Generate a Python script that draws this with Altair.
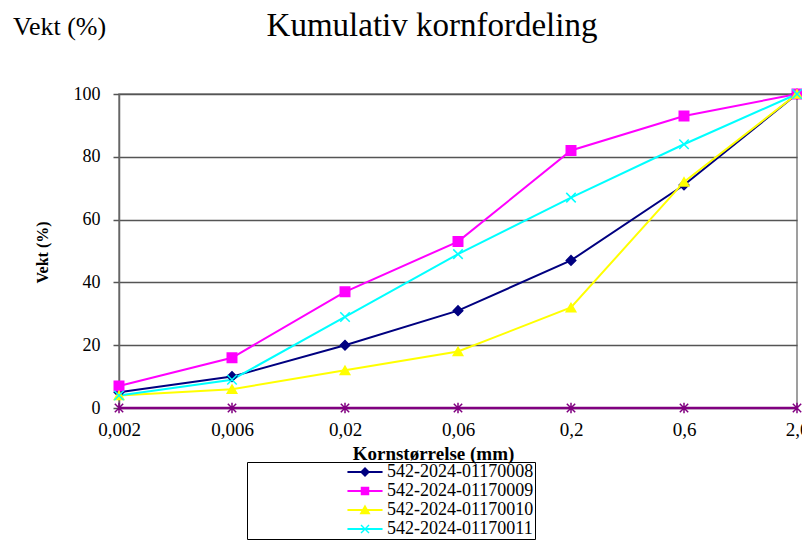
import altair as alt
import pandas as pd

# ---- data ----
sizes = ["0,002", "0,006", "0,02", "0,06", "0,2", "0,6", "2,0"]
series_names = ["542-2024-01170008", "542-2024-01170009",
                "542-2024-01170010", "542-2024-01170011"]
s08 = [5, 10, 20, 31, 47, 71, 100]
s09 = [7, 16, 37, 53, 82, 93, 100]
s10 = [4, 6, 12, 18, 32, 72, 100]
s11 = [4, 9, 29, 49, 67, 84, 100]
base_vals = [0, 0, 0, 0, 0, 0, 0]
y_ticks = [0, 20, 40, 60, 80, 100]

main_title = ["Kumulativ kornfordeling"]
corner_label = ["Vekt (%)"]

colors = ["#000080", "#FF00FF", "#FFFF00", "#00FFFF"]
base_color = "#800080"
plot_shapes = ["diamond", "square", "triangle-up", "M-1,-1L1,1M-1,1L1,-1"]
plot_sizes = [90, 90, 110, 90]
# filled legend markers (the X is drawn as a polygon so it needs no stroke)
legend_markers = [
    "M0,-1L1,0L0,1L-1,0Z",
    "M-0.85,-0.85L0.85,-0.85L0.85,0.85L-0.85,0.85Z",
    "M0,-1.1L1.1,0.85L-1.1,0.85Z",
    "M-0.9,-0.7L-0.7,-0.9L0,-0.2L0.7,-0.9L0.9,-0.7L0.2,0L0.9,0.7L0.7,0.9"
    "L0,0.2L-0.7,0.9L-0.9,0.7L-0.2,0Z",
]
legend_line = "M-3.7,0L3.7,0"
asterisk = "M0,-1L0,1M-0.8,-0.8L0.8,0.8M-0.8,0.8L0.8,-0.8"

rows = []
for name, vals in zip(series_names, [s08, s09, s10, s11]):
    for i, (s, v) in enumerate(zip(sizes, vals)):
        rows.append({"serie": name, "size": s, "value": v, "ord": i})
df = pd.DataFrame(rows)
base_df = pd.DataFrame({"size": sizes, "value": base_vals, "ord": list(range(len(sizes)))})

SERIF = "Liberation Serif"
W, H = 678, 314
LEG_X, LEG_Y, ROW, LFS = 128, 368, 19, 18

x_enc = alt.X(
    "size:N", sort=sizes,
    scale=alt.Scale(type="point", padding=0),
    axis=alt.Axis(
        title="Kornstørrelse (mm)", titleFont=SERIF, titleFontSize=19,
        titleFontWeight="bold", titleColor="black",
        titleX=314, titleY=45, titleBaseline="middle", titleAlign="center",
        labelFont=SERIF, labelFontSize=19, labelColor="black", labelAngle=0,
        labelPadding=12, ticks=False, domain=False, grid=False,
    ),
)
y_enc = alt.Y(
    "value:Q",
    scale=alt.Scale(domain=[0, 100], nice=False, zero=True),
    axis=alt.Axis(
        values=y_ticks, title="Vekt (%)", titleFont=SERIF, titleFontSize=16,
        titleFontWeight="bold", titleColor="black", titleAngle=-90,
        titleX=-77, titleY=158, titleAlign="center", titleBaseline="middle",
        labelFont=SERIF, labelFontSize=18, labelColor="black", labelPadding=13,
        tickSize=6, tickColor="#555555", tickWidth=1.5,
        domainColor="#666666", domainWidth=1.5,
        grid=True, gridColor="#555555", gridWidth=1.5,
    ),
)

col_scale = alt.Scale(domain=series_names, range=colors)

common_leg = dict(
    title=None, orient="none", legendX=LEG_X,
    labelFont=SERIF, labelFontSize=LFS, labelColor="black",
    symbolSize=100, symbolOffset=108, labelOffset=13,
    rowPadding=1, padding=1, cornerRadius=0,
)

# framed legend: labels + coloured line segments
box_legend = alt.Legend(
    legendY=LEG_Y, symbolType=legend_line, symbolStrokeWidth=2, symbolOpacity=1,
    strokeColor="black",
    labelExpr="datum.label + '" + "\u00a0" * 14 + "'",
    **common_leg,
)

lines = alt.Chart(df).mark_line(strokeWidth=2).encode(
    x=x_enc, y=y_enc,
    color=alt.Color("serie:N", scale=col_scale, legend=box_legend),
    order=alt.Order("ord:Q"),
)

points = alt.Chart(df).mark_point(filled=True, strokeWidth=1.5, opacity=1).encode(
    x=x_enc, y=y_enc,
    fill=alt.Fill("serie:N", scale=col_scale, legend=None),
    stroke=alt.Stroke("serie:N", scale=col_scale, legend=None),
    shape=alt.Shape("serie:N", scale=alt.Scale(domain=series_names, range=plot_shapes), legend=None),
    size=alt.Size("serie:N", scale=alt.Scale(domain=series_names, range=plot_sizes), legend=None),
)

# one marker per legend row, laid over the framed legend
symbol_layers = []
for i, (name, c, path) in enumerate(zip(series_names, colors, legend_markers)):
    lg = alt.Legend(
        legendY=LEG_Y + ROW * i, symbolOpacity=1, labelOpacity=0,
        symbolFillColor=c,
        **common_leg,
    )
    symbol_layers.append(
        alt.Chart(df[df["serie"] == name]).mark_point(
            filled=True, color=c, size=100, opacity=0
        ).encode(
            x=x_enc, y=y_enc,
            shape=alt.Shape("serie:N", scale=alt.Scale(domain=[name], range=[path]), legend=lg),
        )
    )

base_line = alt.Chart(base_df).mark_line(strokeWidth=2.5, color=base_color).encode(
    x=x_enc, y=y_enc, order=alt.Order("ord:Q"),
)
base_pts = alt.Chart(base_df).mark_point(
    shape=asterisk, size=110, strokeWidth=1.5, color=base_color, filled=False, opacity=1
).encode(x=x_enc, y=y_enc)

title_txt = alt.Chart(pd.DataFrame({"t": main_title})).mark_text(
    font=SERIF, fontSize=33, color="black", align="center", baseline="alphabetic"
).encode(text="t:N", x=alt.value(313), y=alt.value(-58))

corner_txt = alt.Chart(pd.DataFrame({"t": corner_label})).mark_text(
    font=SERIF, fontSize=26, color="black", align="left", baseline="alphabetic"
).encode(text="t:N", x=alt.value(-106), y=alt.value(-59.5))

chart = alt.layer(
    lines, points, base_line, base_pts, *symbol_layers, title_txt, corner_txt
).resolve_scale(shape="independent").properties(
    width=W, height=H,
    autosize=alt.AutoSizeParams(type="none"),
    padding={"left": 111, "top": 86, "right": 5, "bottom": 134},
    background="white",
).configure_view(stroke="#808080", strokeWidth=1.5)

chart.save("out.html", embed_options={"renderer": "svg", "actions": False})
